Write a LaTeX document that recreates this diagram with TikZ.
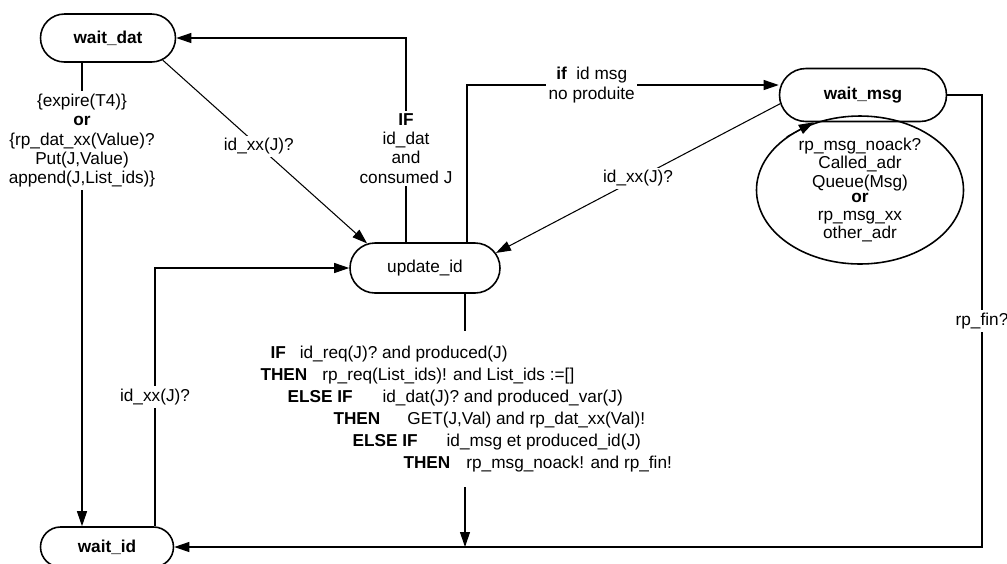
\documentclass[tikz,border=0pt]{standalone}
\usepackage{fontspec}
\setmainfont{Liberation Sans}
\usetikzlibrary{arrows.meta,shapes.misc,shapes.geometric}

\begin{document}
\begin{tikzpicture}[x=0.2mm, y=-0.2mm, line width=0.6pt,
    font=\fontsize{9.8}{11}\selectfont,
    state/.style={rounded rectangle, draw, line width=0.9pt, inner sep=0pt, font=\fontsize{9.8}{11}\selectfont\bfseries},
    lbl/.style={fill=white, align=center, inner sep=1.5pt},
    arr/.style={-{Triangle[length=3mm,width=2mm]}}]
  \useasboundingbox (0,0) rectangle (1007,563);
  % states
  \node[state, minimum width=27mm, minimum height=9.6mm] (wdat) at (108,38) {wait\_dat};
  \node[state, minimum width=30mm, minimum height=10mm, font=\fontsize{9.8}{11}\selectfont] (upd) at (425,268) {update\_id};
  \node[state, minimum width=33.4mm, minimum height=10.6mm] (wmsg) at (863,95) {wait\_msg};
  \node[state, minimum width=26.6mm, minimum height=8mm] (wid) at (107,547) {wait\_id};
  \node[ellipse, draw, line width=0.9pt, minimum width=41.4mm, minimum height=27.4mm, inner sep=0pt, align=center,
        font=\fontsize{9.8}{10.5}\selectfont] (loop) at (860,190)
        {rp\_msg\_noack?\\Called\_adr\\Queue(Msg)\\[-2pt]\textbf{or}\\rp\_msg\_xx\\other\_adr};
  \node[anchor=west, align=left, inner xsep=0pt, inner ysep=3mm, font=\fontsize{9.8}{12.5}\selectfont] (cond) at (260,409)
        {\hspace*{2mm}\textbf{IF}\hspace{2.8mm}id\_req(J)? and produced(J)\\
         \textbf{THEN}\hspace{3mm}rp\_req(List\_ids)! and List\_ids :=[]\\
         \hspace*{5.4mm}\textbf{ELSE IF}\hspace{6mm}id\_dat(J)? and produced\_var(J)\\
         \hspace*{14.6mm}\textbf{THEN}\hspace{5.4mm}GET(J,Val) and rp\_dat\_xx(Val)!\\
         \hspace*{18.4mm}\textbf{ELSE IF}\hspace{5.8mm}id\_msg et produced\_id(J)\\
         \hspace*{28.6mm}\textbf{THEN}\hspace{3.2mm}rp\_msg\_noack! and rp\_fin!};
  % lanes
  \coordinate (xdat) at (82,0);
  \coordinate (xid) at (155,0);
  \coordinate (xif) at (406,0);
  \coordinate (xmsg) at (467,0);
  \coordinate (drop) at (465,547);
  \coordinate (cfin) at (982,547);
  % transitions
  \draw[arr] (wdat.south -| xdat) -- node[lbl, pos=0.168]
        {\{expire(T4)\}\\\textbf{or}\\\{rp\_dat\_xx(Value)?\\Put(J,Value)\\append(J,List\_ids)\}} (wid.north -| xdat);
  \draw[arr] (wdat.-22) -- node[lbl, pos=0.47] {id\_xx(J)?} (upd.157);
  \draw[arr] (upd.north -| xif) |- node[lbl, pos=0.23] {\textbf{IF}\\id\_dat\\and\\consumed J} (wdat.east);
  \draw[arr] (upd.north -| xmsg) |- node[lbl, pos=0.7] {\textbf{if}~ id msg\\no produite} ([yshift=2mm]wmsg.west);
  \draw[arr] (wmsg.186) -- node[lbl] {id\_xx(J)?} (upd.12);
  \draw[arr] (loop.144) -- (wmsg.209);
  \draw[arr] (wmsg.east) -| node[lbl, pos=0.75] {rp\_fin?} (cfin) -- (wid.east);
  \draw[arr] (wid.north -| xid) |- node[lbl, pos=0.25] {id\_xx(J)?} (upd.west);
  \draw (upd.south -| drop) -- (cond.north -| drop);
  \draw[arr] (cond.south -| drop) -- (drop);
\end{tikzpicture}
\end{document}
